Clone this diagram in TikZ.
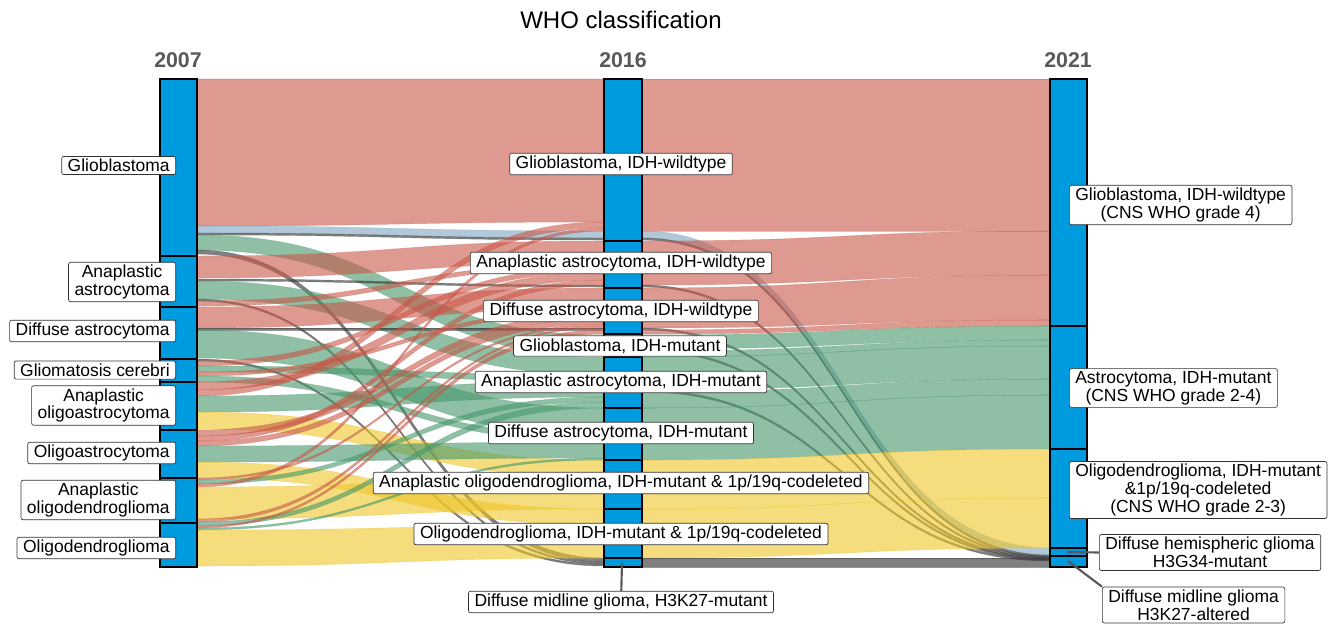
\documentclass[tikz,border=0pt]{standalone}
\usepackage{fontspec}
\setmainfont{Liberation Sans}

\definecolor{barblue}{RGB}{0,154,222}
\definecolor{gbmred}{RGB}{200,87,72}
\definecolor{astrogreen}{RGB}{68,150,105}
\definecolor{oligoyellow}{RGB}{238,197,38}
\definecolor{dhgblue}{RGB}{123,163,190}
\definecolor{dmggray}{RGB}{60,60,60}
\definecolor{yeargray}{RGB}{89,89,89}

% alluvial bands: 2007 -> 2016 and 2016 -> 2021
\newcommand{\bandA}[5]{\path[#5] (197,#1) .. controls (400,#1) and (400,#3) .. (604,#3) -- (604,#4) .. controls (400,#4) and (400,#2) .. (197,#2) -- cycle;}
\newcommand{\bandB}[5]{\path[#5] (642,#1) .. controls (846,#1) and (846,#3) .. (1050,#3) -- (1050,#4) .. controls (846,#4) and (846,#2) .. (642,#2) -- cycle;}

\begin{document}
\begin{tikzpicture}[x=0.75pt,y=-0.75pt,
  fr/.style={fill=gbmred, fill opacity=0.6, draw=gbmred, draw opacity=0.35, line width=0.4pt},
  fg/.style={fill=astrogreen, fill opacity=0.6, draw=astrogreen, draw opacity=0.35, line width=0.4pt},
  fy/.style={fill=oligoyellow, fill opacity=0.6, draw=oligoyellow, draw opacity=0.35, line width=0.4pt},
  fb/.style={fill=dhgblue, fill opacity=0.6, draw=dhgblue, draw opacity=0.4, line width=0.4pt},
  fk/.style={fill=dmggray, fill opacity=0.65, draw=dmggray, draw opacity=0.5, line width=0.3pt},
  bar/.style={fill=barblue, draw=black, line width=1.1pt},
  lbl/.style={draw=black!80, fill=white, rounded corners=1.5pt, line width=0.5pt,
    inner xsep=4.5pt, inner ysep=2pt, align=center, font=\fontsize{13.1}{13.3}\selectfont},
  year/.style={text=yeargray, font=\fontsize{16}{18}\selectfont\bfseries},
  leader/.style={draw=yeargray, line width=1.6pt}]
\useasboundingbox (0,0) rectangle (1343,625);

\node[font=\fontsize{18}{20}\selectfont] (title) at (621,20) {WHO classification};
\node[year] (y07) at (178,60) {2007};
\node[year] (y16) at (623,60) {2016};
\node[year] (y21) at (1068,60) {2021};

% 2007 -> 2016
\bandA{79}{226}{79}{222}{fr}
\bandA{226}{233}{231}{238}{fb}
\bandA{233}{235}{238}{240}{fk}
\bandA{235}{250}{335}{356}{fg}
\bandA{250}{254}{558}{562}{fk}
\bandA{256}{278}{241}{263}{fr}
\bandA{279}{281}{285}{287}{fk}
\bandA{281}{299}{357}{375}{fg}
\bandA{299}{301}{562}{564}{fk}
\bandA{301}{306}{263}{267}{fr}
\bandA{307}{328}{288}{309}{fr}
\bandA{328}{330}{328}{330}{fk}
\bandA{330}{358}{408}{436}{fg}
\bandA{359}{361}{564}{566}{fk}
\bandA{361}{366}{267}{272}{fr}
\bandA{366}{372}{375}{381}{fg}
\bandA{372}{376}{309}{313}{fr}
\bandA{376}{382}{436}{442}{fg}
\bandA{382}{390}{272}{280}{fr}
\bandA{390}{396}{222}{228}{fr}
\bandA{396}{412}{381}{397}{fg}
\bandA{412}{429}{460}{477}{fy}
\bandA{430}{436}{313}{319}{fr}
\bandA{436}{441}{280}{285}{fr}
\bandA{441}{446}{319}{324}{fr}
\bandA{446}{462}{442}{458}{fg}
\bandA{462}{478}{509}{525}{fy}
\bandA{478}{480}{324}{326}{fr}
\bandA{480}{484}{397}{402}{fg}
\bandA{484}{487}{228}{231}{fr}
\bandA{487}{519}{477}{509}{fy}
\bandA{519}{522}{326}{328}{fr}
\bandA{522}{526}{402}{408}{fg}
\bandA{526}{528}{330}{334}{fr}
\bandA{528}{530}{458}{460}{fg}
\bandA{530}{566}{525}{558}{fy}

% 2016 -> 2021
\bandB{79}{231}{79}{231}{fr}
\bandB{231}{238}{548}{555}{fb}
\bandB{238}{240}{555}{557}{fk}
\bandB{241}{285}{231}{275}{fr}
\bandB{285}{287}{556}{558}{fk}
\bandB{288}{328}{275}{320}{fr}
\bandB{328}{330}{557}{559}{fk}
\bandB{330}{334}{320}{326}{fr}
\bandB{335}{349}{326}{340}{fg}
\bandB{349}{351}{558}{560}{fk}
\bandB{351}{357}{340}{346}{fg}
\bandB{357}{390}{346}{379}{fg}
\bandB{390}{392}{559}{561}{fk}
\bandB{392}{408}{379}{395}{fg}
\bandB{408}{460}{395}{449}{fg}
\bandB{460}{509}{449}{498}{fy}
\bandB{509}{558}{498}{548}{fy}
\bandB{558}{567}{558}{567}{fk}

% bars
\draw[bar] (160,79) rectangle (197,256);
\draw[bar] (160,256) rectangle (197,307);
\draw[bar] (160,307) rectangle (197,359);
\draw[bar] (160,359) rectangle (197,382);
\draw[bar] (160,382) rectangle (197,430);
\draw[bar] (160,430) rectangle (197,478);
\draw[bar] (160,478) rectangle (197,523);
\draw[bar] (160,523) rectangle (197,567);

\draw[bar] (604,79) rectangle (642,241);
\draw[bar] (604,241) rectangle (642,288);
\draw[bar] (604,288) rectangle (642,334);
\draw[bar] (604,334) rectangle (642,357);
\draw[bar] (604,357) rectangle (642,408);
\draw[bar] (604,408) rectangle (642,460);
\draw[bar] (604,460) rectangle (642,509);
\draw[bar] (604,509) rectangle (642,558);
\draw[bar] (604,558) rectangle (642,567);

\draw[bar] (1050,79) rectangle (1087,326);
\draw[bar] (1050,326) rectangle (1087,449);
\draw[bar] (1050,449) rectangle (1087,548);
\draw[bar] (1050,548) rectangle (1087,556);
\draw[bar] (1050,556) rectangle (1087,567);

% 2007 labels
\node[lbl, anchor=east] (l07gbm) at (176,165.5) {Glioblastoma};
\node[lbl, anchor=east] (l07aa) at (176,282) {Anaplastic\\astrocytoma};
\node[lbl, anchor=east] (l07da) at (176,331) {Diffuse astrocytoma};
\node[lbl, anchor=east] (l07gc) at (176,370) {Gliomatosis cerebri};
\node[lbl, anchor=east] (l07aoa) at (176,405.5) {Anaplastic\\oligoastrocytoma};
\node[lbl, anchor=east] (l07oa) at (176,453) {Oligoastrocytoma};
\node[lbl, anchor=east] (l07ao) at (176,500) {Anaplastic\\oligodendroglioma};
\node[lbl, anchor=east] (l07o) at (176,548) {Oligodendroglioma};

% 2016 labels
\node[lbl] (l16gbmwt) at (621,164) {Glioblastoma, IDH-wildtype};
\node[lbl] (l16aawt) at (621,263) {Anaplastic astrocytoma, IDH-wildtype};
\node[lbl] (l16dawt) at (621,311) {Diffuse astrocytoma, IDH-wildtype};
\node[lbl] (l16gbmmut) at (620,346) {Glioblastoma, IDH-mutant};
\node[lbl] (l16aamut) at (621,382) {Anaplastic astrocytoma, IDH-mutant};
\node[lbl] (l16damut) at (621,433) {Diffuse astrocytoma, IDH-mutant};
\node[lbl] (l16aomut) at (621,483) {Anaplastic oligodendroglioma, IDH-mutant \& 1p/19q-codeleted};
\node[lbl] (l16omut) at (621,534) {Oligodendroglioma, IDH-mutant \& 1p/19q-codeleted};
\node[lbl] (l16dmg) at (621,602) {Diffuse midline glioma, H3K27-mutant};

% 2021 labels
\node[lbl, anchor=west] (l21gbm) at (1069,205) {Glioblastoma, IDH-wildtype\\(CNS WHO grade 4)};
\node[lbl, anchor=west] (l21astro) at (1069,388) {Astrocytoma, IDH-mutant\\(CNS WHO grade 2-4)};
\node[lbl, anchor=west] (l21oligo) at (1069,490) {Oligodendroglioma, IDH-mutant\\\&1p/19q-codeleted\\(CNS WHO grade 2-3)};
\node[lbl, anchor=west] (l21dhg) at (1099,552.5) {Diffuse hemispheric glioma\\H3G34-mutant};
\node[lbl, anchor=west] (l21dmg) at (1102,605) {Diffuse midline glioma\\H3K27-altered};

% leaders
\coordinate (p16dmg) at (622,563);
\coordinate (p21dhg) at (1067,552);
\coordinate (p21dmg) at (1068,561);
\draw[leader] (p16dmg) -- (l16dmg);
\draw[leader] (p21dhg) -- (l21dhg.west);
\draw[leader] (p21dmg) -- (l21dmg.north west);
\end{tikzpicture}
\end{document}
